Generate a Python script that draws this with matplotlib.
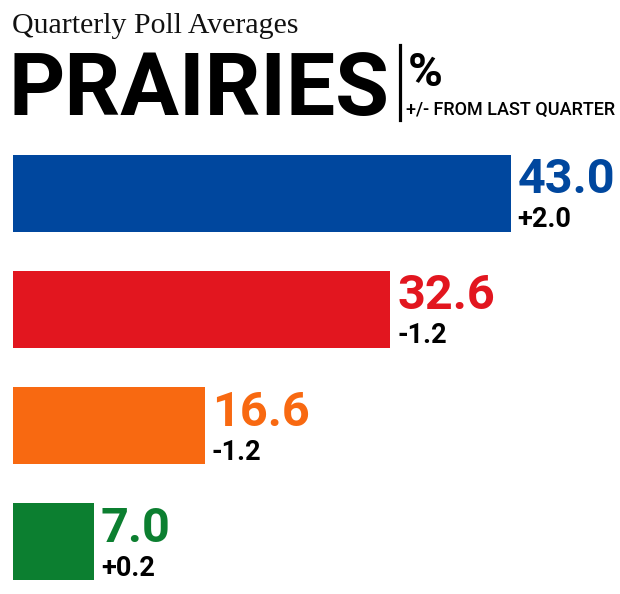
import matplotlib.pyplot as plt

# poll data
parties = ["CPC", "LPC", "NDP", "GRN"]
values = [43.0, 32.6, 16.6, 7.0]
changes = ["+2.0", "-1.2", "-1.2", "+0.2"]
colors = ["#00479e", "#e2161f", "#f86911", "#0c7f30"]

W, H = 620, 594
fig = plt.figure(figsize=(W / 100, H / 100), dpi=100)

sans = "Roboto"

# header
fig.text(12 / W, 1 - 33 / H, "Quarterly Poll Averages", family="Liberation Serif",
         fontsize=21.5, va="baseline", ha="left", color="#111111")
fig.text(8 / W, 1 - 115 / H, "PRAIRIES", family=sans, fontweight="bold",
         fontsize=63, va="baseline", ha="left", color="black")
fig.add_artist(plt.Line2D([399.5 / W, 399.5 / W], [1 - 45 / H, 1 - 120 / H],
                          color="black", lw=2.3))
fig.text(408 / W, 1 - 86 / H, "%", family=sans, fontweight="bold",
         fontsize=34, va="baseline", ha="left", color="black")
fig.text(406 / W, 1 - 115 / H, "+/- FROM LAST QUARTER", family=sans,
         fontweight="medium", fontsize=13, va="baseline", ha="left", color="black")

# bars
scale = 11.58  # px per percentage point
left_px = 12.7
ax = fig.add_axes([left_px / W, 0, 1 - left_px / W, (H - 135) / H])
ax.set_xlim(0, (W - left_px) / scale)
ax.set_ylim((H - 135) / 116.2 - 0.5, -0.5)
ax.axis("off")

ypos = list(range(len(values)))
ax.barh(ypos, values, height=77 / 116.2, color=colors, left=0)

for i, (v, c, col) in enumerate(zip(values, changes, colors)):
    ax.annotate(f"{v:.1f}", xy=(v, i), xytext=(7, 0), textcoords="offset pixels",
                family=sans, fontweight="bold", fontsize=35, color=col,
                va="baseline", ha="left")
    ax.annotate(c, xy=(v, i), xytext=(7, -34), textcoords="offset pixels",
                family=sans, fontweight="bold", fontsize=19.5, color="black",
                va="baseline", ha="left")

fig.savefig("out.png", dpi=100)
